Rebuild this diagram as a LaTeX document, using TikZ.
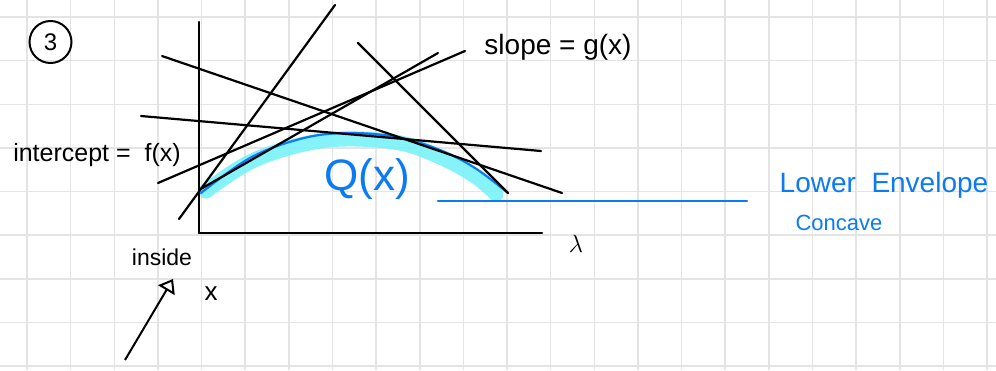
\documentclass[tikz,border=0pt]{standalone}
\usepackage{fontspec}
\setmainfont{Liberation Sans}
\usetikzlibrary{arrows.meta}
\definecolor{penblue}{RGB}{10,122,245}
\definecolor{hilite}{RGB}{120,242,248}
\definecolor{gridgray}{RGB}{228,228,228}
\tikzset{
  ink/.style={line width=2.2pt, black, line cap=round},
  blueink/.style={line width=2.2pt, penblue, line cap=round},
  hand/.style={inner sep=0pt, anchor=center},
}
\begin{document}
\begin{tikzpicture}[x=1pt,y=-1pt]
\useasboundingbox (0,0) rectangle (996,370);
\fill[white] (0,0) rectangle (996,370);
% grid
\foreach \k in {0,...,22} {\draw[gridgray, line width=1.5pt] ({27+43.64*\k},0) -- ({27+43.64*\k},370);}
\foreach \k in {0,...,8} {\draw[gridgray, line width=1.5pt] (0,{17+43.64*\k}) -- (996,{17+43.64*\k});}
% circled 3
\node[draw, circle, line width=2pt, minimum size=42pt, inner sep=0pt, font=\fontsize{24}{24}\selectfont] (three) at (50.5,42) {3};
% highlight and envelope
\draw[hilite, line width=15pt, line cap=round, opacity=0.9] plot[smooth, tension=0.6] coordinates {(206,191) (250,162) (300,145) (345,139) (400,143) (440,157) (475,176) (496,194)};
\draw[blueink] plot[smooth, tension=0.6] coordinates {(201,193) (250,158) (300,139) (345,133) (397,137) (440,150) (475,168) (508,193)};
% axes
\coordinate (ytop) at (199,22);
\coordinate (orig) at (199,233);
\coordinate (xend) at (542,233);
\draw[ink] (ytop) -- (orig) -- (xend);
% tangent lines
\coordinate (f1) at (179,219); \coordinate (f2) at (335,5);
\coordinate (a1) at (162,56);  \coordinate (a2) at (562,193);
\coordinate (b1) at (141,116); \coordinate (b2) at (541,151);
\coordinate (c1) at (158,183); \coordinate (c2) at (465,51);
\coordinate (d1) at (199,190); \coordinate (d2) at (438,53);
\coordinate (e1) at (358,43);  \coordinate (e2) at (508,193);
\draw[ink] (f1) -- (f2);
\draw[ink] (a1) -- (a2);
\draw[ink] (b1) -- (b2);
\draw[ink] (c1) -- (c2);
\draw[ink] (d1) -- (d2);
\draw[ink] (e1) -- (e2);
% blue line
\coordinate (bl1) at (438,201); \coordinate (bl2) at (747,201);
\draw[blueink] (bl1) -- (bl2);
% labels
\node[hand, font=\fontsize{25}{25}\selectfont] (intercept) at (97,155) {intercept =\ \ f(x)};
\node[hand, font=\fontsize{28}{28}\selectfont] (slope) at (558,47) {slope = g(x)};
\node[hand, text=penblue, font=\fontsize{44}{44}\selectfont] (Q) at (367,179) {Q(x)};
\node[hand, text=penblue, font=\fontsize{28}{28}\selectfont] (lower) at (884,185) {Lower\ \ Envelope};
\node[hand, text=penblue, font=\fontsize{22}{22}\selectfont] (concave) at (839,223) {Concave};
\node[hand, font=\fontsize{24}{24}\selectfont] (lambda) at (576,244) {$\lambda$};
\node[hand, font=\fontsize{23}{23}\selectfont] (inside) at (162,257) {inside};
\node[hand, font=\fontsize{26}{26}\selectfont] (xlab) at (211,294) {x};
% arrow
\coordinate (arrS) at (125,360);
\coordinate (arrT) at (173,279);
\draw[line width=2pt, -{Triangle[open, length=13pt, width=19pt, line width=2pt]}] (arrS) -- (arrT);
\end{tikzpicture}
\end{document}
